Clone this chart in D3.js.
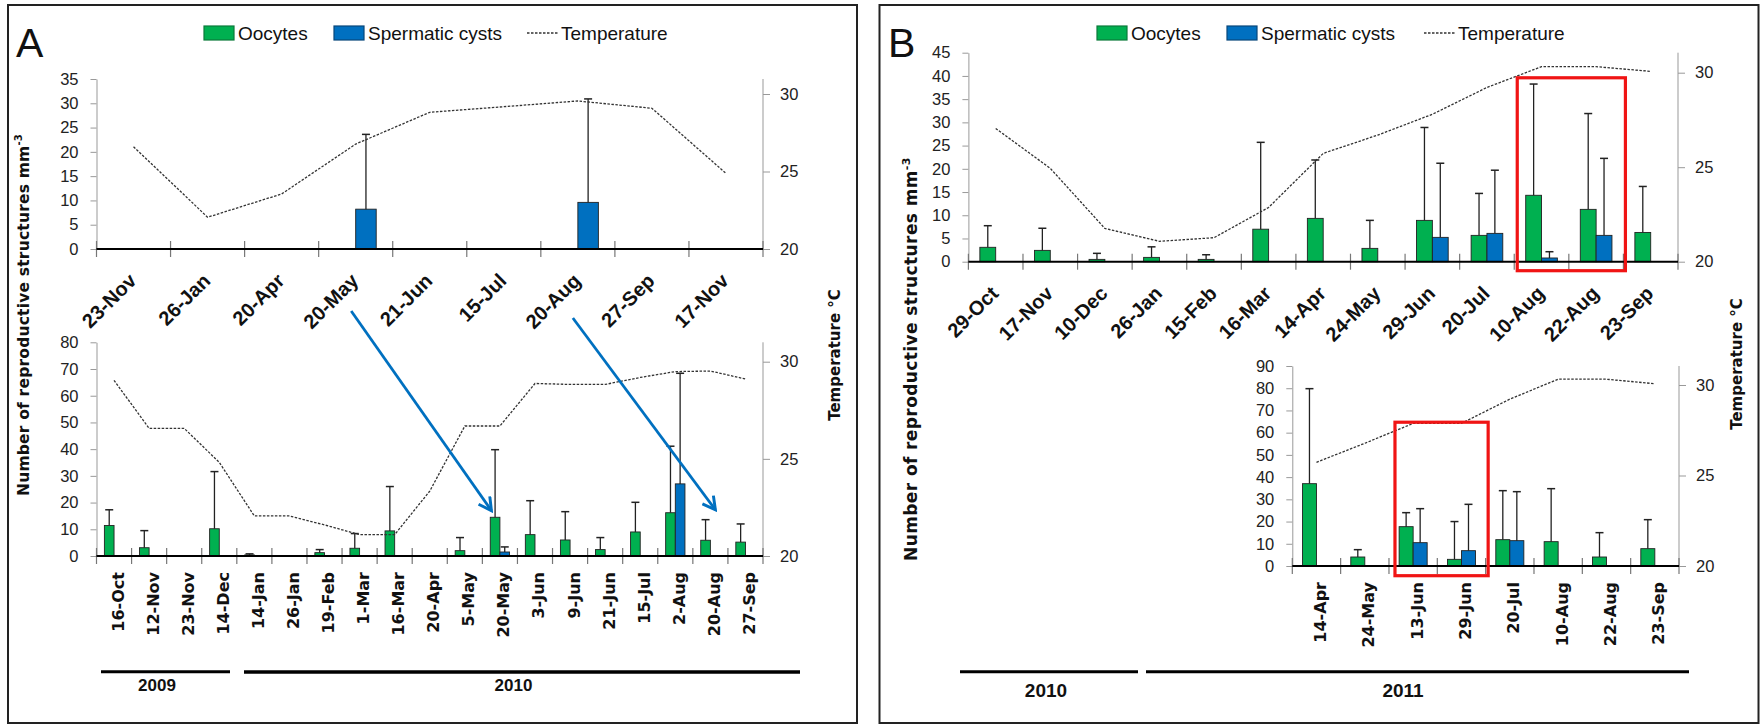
<!DOCTYPE html>
<html>
<head>
<meta charset="utf-8">
<script src="https://cdn.jsdelivr.net/npm/d3@7"></script>
<style>
body { margin: 0; background: #fff; }
svg { display: block; }
</style>
</head>
<body>
<div id="chart"></div>
<script>
// ---- data ----
var aTopDates = ["23-Nov", "26-Jan", "20-Apr", "20-May", "21-Jun", "15-Jul", "20-Aug", "27-Sep", "17-Nov"];
var aTopOocytes = [0, 0, 0, 0, 0, 0, 0, 0, 0];
var aTopOocyteErr = [0, 0, 0, 0, 0, 0, 0, 0, 0];
var aTopCysts = [0, 0, 0, 8.2, 0, 0, 9.6, 0, 0];
var aTopCystErr = [0, 0, 0, 15.4, 0, 0, 21.3, 0, 0];
var aTopTemp = [26.6, 22.05, 23.55, 26.77, 28.82, 29.18, 29.55, 29.08, 24.88];

var aBotDates = ["16-Oct", "12-Nov", "23-Nov", "14-Dec", "14-Jan", "26-Jan", "19-Feb", "1-Mar", "16-Mar", "20-Apr",
    "5-May", "20-May", "3-Jun", "9-Jun", "21-Jun", "15-Jul", "2-Aug", "20-Aug", "27-Sep"];
var aBotOocytes = [11.4, 3.1, 0, 10.2, 0.4, 0, 1.25, 2.9, 9.4, 0, 2.0, 14.5, 8.0, 6.0, 2.4, 9.0, 16.2, 5.9, 5.2];
var aBotOocyteErr = [5.9, 6.4, 0, 21.4, 0.4, 0, 1.15, 5.5, 16.6, 0, 4.9, 25.3, 12.7, 10.6, 4.5, 11.1, 24.9, 7.7, 6.8];
var aBotCysts = [0, 0, 0, 0, 0, 0, 0, 0, 0, 0, 0, 1.5, 0, 0, 0, 0, 27.0, 0, 0];
var aBotCystErr = [0, 0, 0, 0, 0, 0, 0, 0, 0, 0, 0, 1.9, 0, 0, 0, 0, 41.4, 0, 0];
var aBotTemp = [29.04, 26.57, 26.57, 24.82, 22.06, 22.06, 21.6, 21.1, 21.1, 23.34,
    26.69, 26.69, 28.88, 28.83, 28.83, 29.19, 29.49, 29.52, 29.11];

var bTopDates = ["29-Oct", "17-Nov", "10-Dec", "26-Jan", "15-Feb", "16-Mar", "14-Apr", "24-May", "29-Jun", "20-Jul",
    "10-Aug", "22-Aug", "23-Sep"];
var bTopOocytes = [3.1, 2.44, 0.5, 0.93, 0.5, 7.0, 9.33, 2.87, 8.9, 5.67, 14.3, 11.27, 6.3];
var bTopOocyteErr = [4.65, 4.76, 1.3, 2.27, 1.0, 18.7, 12.57, 6.03, 20.0, 9.03, 23.95, 20.63, 9.9];
var bTopCysts = [0, 0, 0, 0, 0, 0, 0, 0, 5.24, 6.1, 0.8, 5.67, 0];
var bTopCystErr = [0, 0, 0, 0, 0, 0, 0, 0, 15.96, 13.6, 1.35, 16.58, 0];
var bTopTemp = [27.05, 24.94, 21.76, 21.08, 21.27, 22.87, 25.73, 26.7, 27.8, 29.22, 30.32, 30.32, 30.07];

var bBotDates = ["14-Apr", "24-May", "13-Jun", "29-Jun", "20-Jul", "10-Aug", "22-Aug", "23-Sep"];
var bBotOocytes = [37.05, 4.05, 17.7, 3.0, 11.85, 10.95, 4.05, 7.8];
var bBotOocyteErr = [42.75, 3.3, 6.3, 17.0, 22.05, 23.85, 10.95, 13.05];
var bBotCysts = [0, 0, 10.5, 6.9, 11.4, 0, 0, 0];
var bBotCystErr = [0, 0, 15.3, 20.85, 22.05, 0, 0, 0];
var bBotTemp = [25.73, 26.78, 27.88, 27.88, 29.22, 30.32, 30.32, 30.07];

var legendItems = ["Oocytes", "Spermatic cysts", "Temperature"];

var green = "#00b050";
var blue = "#0070c0";
var tickFont = "'Liberation Sans', Arial, sans-serif";
var boldFont = "'DejaVu Sans', Verdana, sans-serif";

var svg = d3.select("#chart").append("svg")
    .attr("width", 1763)
    .attr("height", 726);

svg.append("defs").append("marker")
    .attr("id", "arrowhead")
    .attr("viewBox", "0 0 14 14")
    .attr("refX", 12)
    .attr("refY", 7)
    .attr("markerWidth", 16)
    .attr("markerHeight", 16)
    .attr("markerUnits", "userSpaceOnUse")
    .attr("orient", "auto")
    .append("path")
    .attr("d", "M1,1 L12,7 L1,13")
    .attr("fill", "none")
    .attr("stroke", blue)
    .attr("stroke-width", 2.6);

// panel frames
svg.append("rect").attr("x", 8).attr("y", 5).attr("width", 849).attr("height", 718)
    .attr("fill", "none").attr("stroke", "#222").attr("stroke-width", 2);
svg.append("rect").attr("x", 879.5).attr("y", 5).attr("width", 879).attr("height", 718)
    .attr("fill", "none").attr("stroke", "#222").attr("stroke-width", 2);

function drawChart(cfg, d) {
    var g = svg.append("g");

    var x = d3.scaleBand()
        .domain(d.dates)
        .range([cfg.left, cfg.right])
        .padding(0);
    var y = d3.scaleLinear()
        .domain([0, cfg.yMax])
        .range([cfg.yZero, cfg.yTop]);
    var t = d3.scaleLinear()
        .domain([20, 30])
        .range([cfg.yZero, cfg.yT30]);

    var bw = x.bandwidth();
    var w = bw * cfg.barFrac;

    // left axis
    var yAxis = d3.axisLeft(y)
        .tickValues(d3.range(0, cfg.yMax + 0.1, cfg.step))
        .tickSize(6)
        .tickSizeOuter(0)
        .tickPadding(12);
    var ya = g.append("g")
        .attr("transform", "translate(" + cfg.left + ",0)")
        .call(yAxis);
    ya.select(".domain").attr("stroke", "#999");
    ya.selectAll(".tick line").attr("stroke", "#999");
    ya.selectAll("text").style("font-family", tickFont).style("font-size", "16.5px").attr("fill", "#222");

    // right axis (temperature)
    var tAxis = d3.axisRight(t)
        .tickValues([20, 25, 30])
        .tickSize(7)
        .tickSizeOuter(0)
        .tickPadding(10);
    var ta = g.append("g")
        .attr("transform", "translate(" + cfg.right + ",0)")
        .call(tAxis);
    ta.select(".domain").remove();
    ta.selectAll(".tick line").attr("stroke", "#999");
    ta.selectAll("text").style("font-family", tickFont).style("font-size", "16.5px").attr("fill", "#222");
    g.append("line")
        .attr("x1", cfg.right).attr("x2", cfg.right)
        .attr("y1", cfg.yTop).attr("y2", cfg.yZero)
        .attr("stroke", "#999");

    // category tick marks crossing the zero line
    g.selectAll(".xtick")
        .data(d3.range(d.dates.length + 1))
        .enter()
        .append("line")
        .attr("x1", function(i) { return cfg.left + i * x.step(); })
        .attr("x2", function(i) { return cfg.left + i * x.step(); })
        .attr("y1", cfg.yZero - 8)
        .attr("y2", cfg.yZero + 8)
        .attr("stroke", "#777")
        .attr("stroke-width", 1.2);

    // bars
    var rows = d.dates.map(function(k, i) {
        return { date: k, ooc: d.ooc[i], oocErr: d.oocErr[i], cys: d.cys[i], cysErr: d.cysErr[i] };
    });

    g.selectAll(".ooc")
        .data(rows.filter(function(r) { return r.ooc > 0; }))
        .enter()
        .append("rect")
        .attr("x", function(r) { return x(r.date) + bw / 2 - w; })
        .attr("y", function(r) { return y(r.ooc); })
        .attr("width", w)
        .attr("height", function(r) { return cfg.yZero - y(r.ooc); })
        .attr("fill", green)
        .attr("stroke", "#222")
        .attr("stroke-width", 0.9);

    g.selectAll(".cys")
        .data(rows.filter(function(r) { return r.cys > 0; }))
        .enter()
        .append("rect")
        .attr("x", function(r) { return x(r.date) + bw / 2; })
        .attr("y", function(r) { return y(r.cys); })
        .attr("width", w)
        .attr("height", function(r) { return cfg.yZero - y(r.cys); })
        .attr("fill", blue)
        .attr("stroke", "#222")
        .attr("stroke-width", 0.9);

    // error bars
    var errs = [];
    rows.forEach(function(r) {
        if (r.ooc > 0) errs.push({ cx: x(r.date) + bw / 2 - w / 2, v: r.ooc, e: r.oocErr });
        if (r.cys > 0) errs.push({ cx: x(r.date) + bw / 2 + w / 2, v: r.cys, e: r.cysErr });
    });
    var eg = g.selectAll(".err")
        .data(errs)
        .enter()
        .append("g");
    eg.append("line")
        .attr("x1", function(e) { return e.cx; })
        .attr("x2", function(e) { return e.cx; })
        .attr("y1", function(e) { return y(e.v); })
        .attr("y2", function(e) { return y(e.v + e.e); })
        .attr("stroke", "#222")
        .attr("stroke-width", 1.3);
    eg.append("line")
        .attr("x1", function(e) { return e.cx - 4; })
        .attr("x2", function(e) { return e.cx + 4; })
        .attr("y1", function(e) { return y(e.v + e.e); })
        .attr("y2", function(e) { return y(e.v + e.e); })
        .attr("stroke", "#222")
        .attr("stroke-width", 1.5);

    // zero line
    g.append("line")
        .attr("x1", cfg.left).attr("x2", cfg.right)
        .attr("y1", cfg.yZero).attr("y2", cfg.yZero)
        .attr("stroke", "#000")
        .attr("stroke-width", 2);

    // temperature
    var line = d3.line()
        .x(function(v, i) { return x(d.dates[i]) + bw / 2; })
        .y(function(v) { return t(v); });
    g.append("path")
        .datum(d.temp)
        .attr("d", line)
        .attr("fill", "none")
        .attr("stroke", "#333")
        .attr("stroke-width", 1.3)
        .attr("stroke-dasharray", "2.5,1.5");

    // category labels
    if (cfg.labels == "diag") {
        g.selectAll(".xl")
            .data(d.dates)
            .enter()
            .append("text")
            .attr("transform", function(k) {
                return "translate(" + (x(k) + bw / 2 + 4) + "," + (cfg.yZero + 33) + ") rotate(-45)";
            })
            .attr("text-anchor", "end")
            .style("font-family", tickFont)
            .style("font-size", "20px")
            .style("font-weight", "bold")
            .attr("fill", "#111")
            .text(function(k) { return k; });
    } else {
        g.selectAll(".xl")
            .data(d.dates)
            .enter()
            .append("text")
            .attr("transform", function(k) {
                return "translate(" + (x(k) + bw / 2 + 9.5) + "," + (cfg.yZero + 16) + ") rotate(-90)";
            })
            .attr("text-anchor", "end")
            .style("font-family", boldFont)
            .style("font-size", "16px")
            .style("font-weight", "bold")
            .attr("fill", "#111")
            .text(function(k) { return k; });
    }

    return { x: x, y: y, t: t, bw: bw };
}

function drawLegend(yc, pos) {
    var g = svg.append("g");
    g.append("rect").attr("x", pos[0]).attr("y", yc - 7).attr("width", 30).attr("height", 14)
        .attr("fill", green).attr("stroke", "#0a7a3a").attr("stroke-width", 1.2);
    g.append("rect").attr("x", pos[1]).attr("y", yc - 7).attr("width", 30).attr("height", 14)
        .attr("fill", blue).attr("stroke", "#08467a").attr("stroke-width", 1.2);
    g.append("line").attr("x1", pos[2]).attr("x2", pos[2] + 31).attr("y1", yc).attr("y2", yc)
        .attr("stroke", "#333").attr("stroke-width", 1.3).attr("stroke-dasharray", "2.5,1.5");
    [pos[0] + 34, pos[1] + 34, pos[2] + 34].forEach(function(tx, i) {
        g.append("text")
            .attr("x", tx)
            .attr("y", yc + 7)
            .style("font-family", tickFont)
            .style("font-size", "19px")
            .attr("fill", "#111")
            .text(legendItems[i]);
    });
}

function yTitle(x, yc, size, spacing) {
    var t = svg.append("text")
        .attr("transform", "translate(" + x + "," + yc + ") rotate(-90)")
        .attr("text-anchor", "middle")
        .style("font-family", boldFont)
        .style("font-size", size + "px")
        .style("font-weight", "bold")
        .style("letter-spacing", spacing + "px")
        .attr("fill", "#111");
    t.append("tspan").text("Number of reproductive structures  mm");
    t.append("tspan").attr("dy", -7).style("font-size", (size * 0.65) + "px").text("-3");
}

function tTitle(x, yc, size) {
    svg.append("text")
        .attr("transform", "translate(" + x + "," + yc + ") rotate(-90)")
        .attr("text-anchor", "middle")
        .style("font-family", boldFont)
        .style("font-size", size + "px")
        .style("font-weight", "bold")
        .attr("fill", "#111")
        .text("Temperature °C");
}

function yearBar(x1, x2, yy, width, label, lx, ly, size) {
    svg.append("line").attr("x1", x1).attr("x2", x2).attr("y1", yy).attr("y2", yy)
        .attr("stroke", "#000").attr("stroke-width", width);
    svg.append("text").attr("x", lx).attr("y", ly).attr("text-anchor", "middle")
        .style("font-family", tickFont).style("font-size", size + "px").style("font-weight", "bold")
        .attr("fill", "#111").text(label);
}

// ---- panel A ----
svg.append("text").attr("x", 16).attr("y", 57)
    .style("font-family", tickFont).style("font-size", "41px").attr("fill", "#111").text("A");
drawLegend(33, [204, 334, 527]);

var aTop = drawChart(
    { left: 96.5, right: 763, yZero: 249, yTop: 79, yMax: 35, step: 5, yT30: 94, barFrac: 0.277, labels: "diag" },
    { dates: aTopDates, ooc: aTopOocytes, oocErr: aTopOocyteErr, cys: aTopCysts, cysErr: aTopCystErr, temp: aTopTemp });
var aBot = drawChart(
    { left: 96.5, right: 763, yZero: 556, yTop: 342.3, yMax: 80, step: 10, yT30: 361.7, barFrac: 0.275, labels: "vert" },
    { dates: aBotDates, ooc: aBotOocytes, oocErr: aBotOocyteErr, cys: aBotCysts, cysErr: aBotCystErr, temp: aBotTemp });

yTitle(29, 315, 15.5, 0.2);
tTitle(839.5, 355, 15);

// arrows linking the top sampling dates to the lower chart
var arrowsA = [
    { date: "20-May", sx: -4.5, sy: 62, ex: -8.5, ev: 17 },
    { date: "20-Aug", sx: -5, sy: 69, ex: 5, ev: 17.3 }
];
arrowsA.forEach(function(a) {
    svg.append("line")
        .attr("x1", aTop.x(a.date) + aTop.bw / 2 + a.sx)
        .attr("y1", aTop.y(0) + a.sy)
        .attr("x2", aBot.x(a.date) + aBot.bw / 2 + a.ex)
        .attr("y2", aBot.y(a.ev))
        .attr("stroke", blue)
        .attr("stroke-width", 2.8)
        .attr("marker-end", "url(#arrowhead)");
});

yearBar(101, 230, 671.7, 3, "2009", 157, 691, 17);
yearBar(244, 800, 672, 3.6, "2010", 513.5, 691, 17);

// ---- panel B ----
svg.append("text").attr("x", 888).attr("y", 57)
    .style("font-family", tickFont).style("font-size", "41px").attr("fill", "#111").text("B");
drawLegend(33, [1097, 1227, 1424]);

var bTop = drawChart(
    { left: 968.4, right: 1678, yZero: 261.7, yTop: 52.7, yMax: 45, step: 5, yT30: 72.7, barFrac: 0.29, labels: "diag" },
    { dates: bTopDates, ooc: bTopOocytes, oocErr: bTopOocyteErr, cys: bTopCysts, cysErr: bTopCystErr, temp: bTopTemp });
var bBot = drawChart(
    { left: 1292.3, right: 1679, yZero: 566, yTop: 366, yMax: 90, step: 10, yT30: 385, barFrac: 0.29, labels: "vert" },
    { dates: bBotDates, ooc: bBotOocytes, oocErr: bBotOocyteErr, cys: bBotCysts, cysErr: bBotCystErr, temp: bBotTemp });

yTitle(917, 359, 17, 0.4);
tTitle(1742, 364, 15);

// red highlight boxes
var boxes = [
    { c: bTop, from: "10-Aug", to: "22-Aug", dx1: 3, dx2: 2, top: 39.6, bottom: 9 },
    { c: bBot, from: "13-Jun", to: "29-Jun", dx1: 6, dx2: 2.5, top: 64.7, bottom: 9.7 }
];
boxes.forEach(function(b) {
    var x1 = b.c.x(b.from) + b.dx1;
    var x2 = b.c.x(b.to) + b.c.bw + b.dx2;
    var y1 = b.c.y(b.top);
    var y2 = b.c.y(0) + b.bottom;
    svg.append("rect")
        .attr("x", x1).attr("y", y1)
        .attr("width", x2 - x1).attr("height", y2 - y1)
        .attr("fill", "none")
        .attr("stroke", "#f01414")
        .attr("stroke-width", 3.2);
});

yearBar(960, 1138, 671.7, 3, "2010", 1046, 697, 19);
yearBar(1146, 1689, 671.7, 3, "2011", 1403, 697, 19);
</script>
</body>
</html>
